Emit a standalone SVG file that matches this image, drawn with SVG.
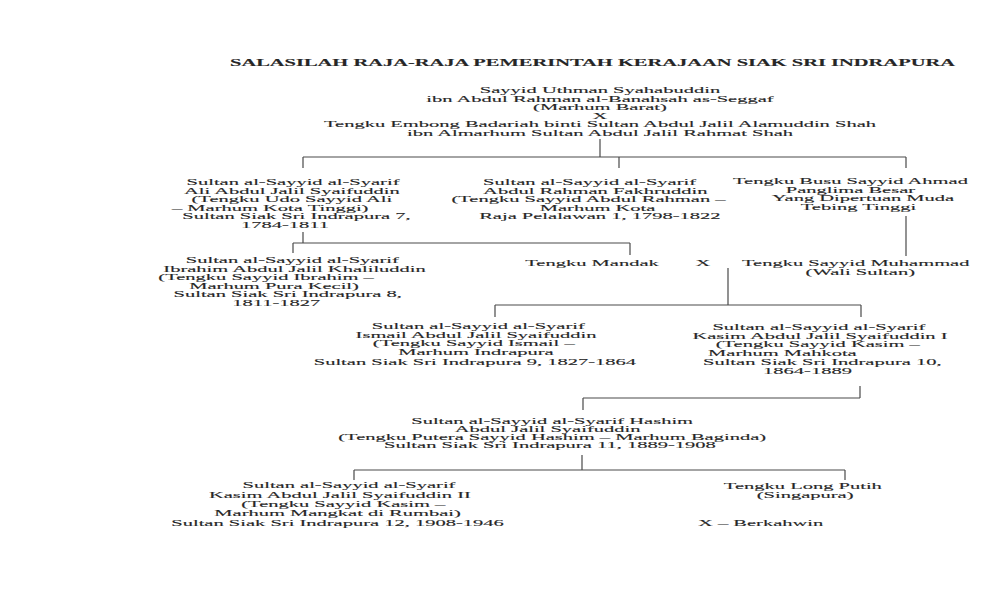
<svg xmlns="http://www.w3.org/2000/svg" width="1005" height="603" viewBox="0 0 1005 603">
<style>
text{font-family:"Liberation Serif","Times New Roman",serif;font-size:9px;fill:#262626;stroke:#262626;stroke-width:0.12;text-anchor:middle}
.title{font-size:10.5px;font-weight:bold;text-anchor:start}
.lg{text-anchor:start}
#connectors path{stroke:#4a4a4a;stroke-width:1.2;fill:none}
</style>
<rect width="1005" height="603" fill="#ffffff"/>
<text class="title" x="230" y="66" textLength="725" lengthAdjust="spacingAndGlyphs">SALASILAH RAJA-RAJA PEMERINTAH KERAJAAN SIAK SRI INDRAPURA</text>

<g id="connectors">
<path d="M600,139V157M303,157H906M303,157V168M619,157V168M906,157V168"/>
<path d="M303,232V243M293,243H630M293,243V253M630,243V255"/>
<path d="M906,216V256"/>
<path d="M728,268V305M495,305H861M495,305V317M861,305V317"/>
<path d="M860,386V398M583,398H860M583,398V410"/>
<path d="M582,455V470M354,470H845M354,470V480M845,470V480"/>
</g>

<g id="node-uthman" transform="translate(600,0) scale(2.28,1)">
<text x="0" y="93">Sayyid Uthman Syahabuddin</text>
<text x="0" y="102">ibn Abdul Rahman al-Banahsah as-Seggaf</text>
<text x="0" y="110.5">(Marhum Barat)</text>
<text x="0" y="119">X</text>
<text x="0" y="127.5">Tengku Embong Badariah binti Sultan Abdul Jalil Alamuddin Shah</text>
<text x="0" y="136">ibn Almarhum Sultan Abdul Jalil Rahmat Shah</text>
</g>

<g id="node-ali" transform="translate(293,0) scale(2.28,1)">
<text x="0" y="185.5">Sultan al-Sayyid al-Syarif</text>
<text x="-0.5" y="194">Ali Abdul Jalil Syaifuddin</text>
<text x="-0.5" y="202.5">(Tengku Udo Sayyid Ali</text>
<text x="-10" y="211">– Marhum Kota Tinggi)</text>
<text x="1.5" y="219.5">Sultan Siak Sri Indrapura 7,</text>
<text x="-3.5" y="228">1784-1811</text>
</g>

<g id="node-abdulrahman" transform="translate(593,0) scale(2.28,1)">
<text x="-1.5" y="185.5">Sultan al-Sayyid al-Syarif</text>
<text x="1" y="194">Abdul Rahman Fakhruddin</text>
<text x="-2" y="202.5">(Tengku Sayyid Abdul Rahman –</text>
<text x="2" y="211">Marhum Kota</text>
<text x="3" y="219.5">Raja Pelalawan 1, 1798-1822</text>
</g>

<g id="node-busu" transform="translate(855,0) scale(2.28,1)">
<text x="-2" y="184.5">Tengku Busu Sayyid Ahmad</text>
<text x="-2" y="193">Panglima Besar</text>
<text x="3.5" y="201.5">Yang Dipertuan Muda</text>
<text x="1.5" y="210">Tebing Tinggi</text>
</g>

<g id="node-ibrahim" transform="translate(290,0) scale(2.28,1)">
<text x="1" y="263.5">Sultan al-Sayyid al-Syarif</text>
<text x="2" y="272">Ibrahim Abdul Jalil Khaliluddin</text>
<text x="-10.5" y="280.5">(Tengku Sayyid Ibrahim –</text>
<text x="-7" y="289">Marhum Pura Kecil)</text>
<text x="-1" y="297.5">Sultan Siak Sri Indrapura 8,</text>
<text x="-6" y="306">1811-1827</text>
</g>

<g id="node-mandak" transform="translate(592,0) scale(2.28,1)">
<text x="0" y="266.5">Tengku Mandak</text>
</g>

<g id="marriage-x" transform="translate(703,0) scale(2.28,1)">
<text x="0" y="266.5">X</text>
</g>

<g id="node-muhammad" transform="translate(858,0) scale(2.28,1)">
<text x="-1" y="266.5">Tengku Sayyid Muhammad</text>
<text x="1" y="275.5">(Wali Sultan)</text>
</g>

<g id="node-ismail" transform="translate(476,0) scale(2.28,1)">
<text x="1" y="329.5">Sultan al-Sayyid al-Syarif</text>
<text x="0" y="338">Ismail Abdul Jalil Syaifuddin</text>
<text x="-1" y="346.5">(Tengku Sayyid Ismail –</text>
<text x="0" y="355.5">Marhum Indrapura</text>
<text x="-0.5" y="365">Sultan Siak Sri Indrapura 9, 1827-1864</text>
</g>

<g id="node-kasim1" transform="translate(820,0) scale(2.28,1)">
<text x="-0.5" y="330.5">Sultan al-Sayyid al-Syarif</text>
<text x="0" y="339">Kasim Abdul Jalil Syaifuddin I</text>
<text x="-1" y="347.5">(Tengku Sayyid Kasim –</text>
<text x="-16.5" y="356">Marhum Mahkota</text>
<text x="1" y="365">Sultan Siak Sri Indrapura 10,</text>
<text x="-5.5" y="374">1864-1889</text>
</g>

<g id="node-hashim" transform="translate(551,0) scale(2.28,1)">
<text x="0.5" y="424.5">Sultan al-Sayyid al-Syarif Hashim</text>
<text x="-1.5" y="432.3">Abdul Jalil Syaifuddin</text>
<text x="0.5" y="440.5">(Tengku Putera Sayyid Hashim – Marhum Baginda)</text>
<text x="-0.5" y="448.5">Sultan Siak Sri Indrapura 11, 1889-1908</text>
</g>

<g id="node-kasim2" transform="translate(341,0) scale(2.28,1)">
<text x="3.5" y="488.5">Sultan al-Sayyid al-Syarif</text>
<text x="-0.5" y="498">Kasim Abdul Jalil Syaifuddin II</text>
<text x="1" y="507.5">(Tengku Sayyid Kasim –</text>
<text x="-1.5" y="516.5">Marhum Mangkat di Rumbai)</text>
<text x="-1.5" y="526">Sultan Siak Sri Indrapura 12, 1908-1946</text>
</g>

<g id="node-longputih" transform="translate(804,0) scale(2.28,1)">
<text x="-0.5" y="489.5">Tengku Long Putih</text>
<text x="0.5" y="498.5">(Singapura)</text>
</g>

<g id="legend" transform="translate(698,0) scale(2.28,1)">
<text class="lg" x="0" y="526.5">X – Berkahwin</text>
</g>
</svg>
